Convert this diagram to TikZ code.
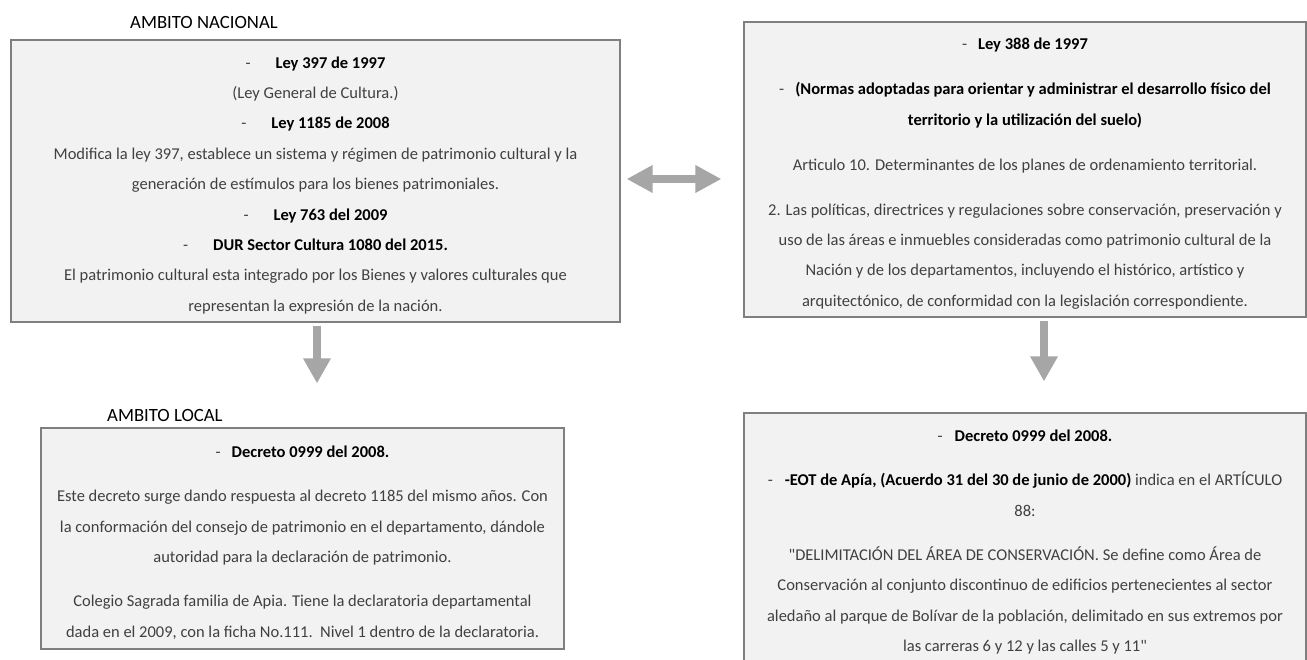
\documentclass[tikz,border=0pt]{standalone}
\usepackage{fontspec}
\setmainfont{Carlito}
\usepackage{xcolor}
\usepackage{tikz}
\usetikzlibrary{arrows.meta,positioning}
\definecolor{texto}{HTML}{404040}
\definecolor{borde}{HTML}{7F7F7F}
\definecolor{relleno}{HTML}{F2F2F2}
\definecolor{gris}{HTML}{A6A6A6}
\newcommand{\resalta}[1]{\textbf{\color{black}#1}}
\newcommand{\baja}{\rule{0pt}{20pt}} % empuja el texto hacia abajo
\tikzset{
  caja/.style={draw=borde, fill=relleno, line width=1.2pt, align=center, text=texto,
    inner sep=0pt, font=\fontsize{16.5}{30.4}\selectfont},
  titulo/.style={text=black, inner sep=0pt, anchor=base west, font=\fontsize{18.7}{22}\selectfont},
  flecha/.style={draw=gris, line width=8.5pt, -{Triangle[length=25pt,width=26pt]}},
  flechadoble/.style={draw=gris, line width=8.3pt,
    {Triangle[length=26pt,width=26pt]}-{Triangle[length=26pt,width=26pt]}},
}

\begin{document}
\begin{tikzpicture}[x=1pt,y=-1pt]
  \useasboundingbox (0,0) rectangle (1307,660);
  \clip (0,0) rectangle (1307,660);
  % titulos
  \node[titulo] (tNac) at (130,29) {AMBITO NACIONAL};
  \node[titulo] (tLoc) at (107,421) {AMBITO LOCAL};
  % cajas
  \node[caja, minimum width=609pt, minimum height=282pt] (nac) at (315.5,181) {%
    \baja-\hspace{25pt}\resalta{Ley 397 de 1997}\\
    (Ley General de Cultura.)\\
    -\hspace{25pt}\resalta{Ley 1185 de 2008}\\
    Modifica la ley 397, establece un sistema y régimen de patrimonio cultural y la\\
    generación de estímulos para los bienes patrimoniales.\\
    -\hspace{25pt}\resalta{Ley 763 del 2009}\\
    -\hspace{25pt}\resalta{DUR Sector Cultura 1080 del 2015.}\\
    El patrimonio cultural esta integrado por los Bienes y valores culturales que\\
    representan la expresión de la nación.};
  \node[caja, minimum width=562pt, minimum height=295pt] (ley) at (1025,169.5) {%
    \baja-\hspace{11pt}\resalta{Ley 388 de 1997}\\[14.6pt]
    -\hspace{11pt}\resalta{(Normas adoptadas para orientar y administrar el desarrollo físico del}\\
    \resalta{territorio y la utilización del suelo)}\\[14.6pt]
    Articulo 10. Determinantes de los planes de ordenamiento territorial.\\[14.6pt]
    2. Las políticas, directrices y regulaciones sobre conservación, preservación y\\
    uso de las áreas e inmuebles consideradas como patrimonio cultural de la\\
    Nación y de los departamentos, incluyendo el histórico, artístico y\\
    arquitectónico, de conformidad con la legislación correspondiente.};
  \node[caja, minimum width=523pt, minimum height=221pt] (loc) at (302.5,538.5) {%
    \baja-\hspace{11pt}\resalta{Decreto 0999 del 2008.}\\[13.6pt]
    Este decreto surge dando respuesta al decreto 1185 del mismo años. Con\\
    la conformación del consejo de patrimonio en el departamento, dándole\\
    autoridad para la declaración de patrimonio.\\[13.6pt]
    Colegio Sagrada familia de Apia. Tiene la declaratoria departamental\\
    dada en el 2009, con la ficha No.111.\ \ Nivel 1 dentro de la declaratoria.};
  \node[caja, minimum width=562pt, minimum height=258pt] (eot) at (1025,542) {%
    -\hspace{12pt}\resalta{Decreto 0999 del 2008.}\\[14pt]
    -\hspace{12pt}\resalta{-EOT de Apía, (Acuerdo 31 del 30 de junio de 2000)} indica en el ARTÍCULO\\
    88:\\[14pt]
    \textquotedbl DELIMITACIÓN DEL ÁREA DE CONSERVACIÓN. Se define como Área de\\
    Conservación al conjunto discontinuo de edificios pertenecientes al sector\\
    aledaño al parque de Bolívar de la población, delimitado en sus extremos por\\
    las carreras 6 y 12 y las calles 5 y 11\textquotedbl};
  % flechas
  \draw[flechadoble, shorten <=6pt, shorten >=22pt] ([yshift=2pt]nac.east) -- ([yshift=2pt]nac.east -| ley.west);
  \draw[flecha, shorten <=3pt, shorten >=44pt] ([xshift=1.5pt]nac.south) -- ([xshift=1.5pt]nac.south |- loc.north);
  \draw[flecha, shorten <=3pt, shorten >=31pt] ([xshift=19pt]ley.south) -- ([xshift=19pt]ley.south |- eot.north);
\end{tikzpicture}
\end{document}
